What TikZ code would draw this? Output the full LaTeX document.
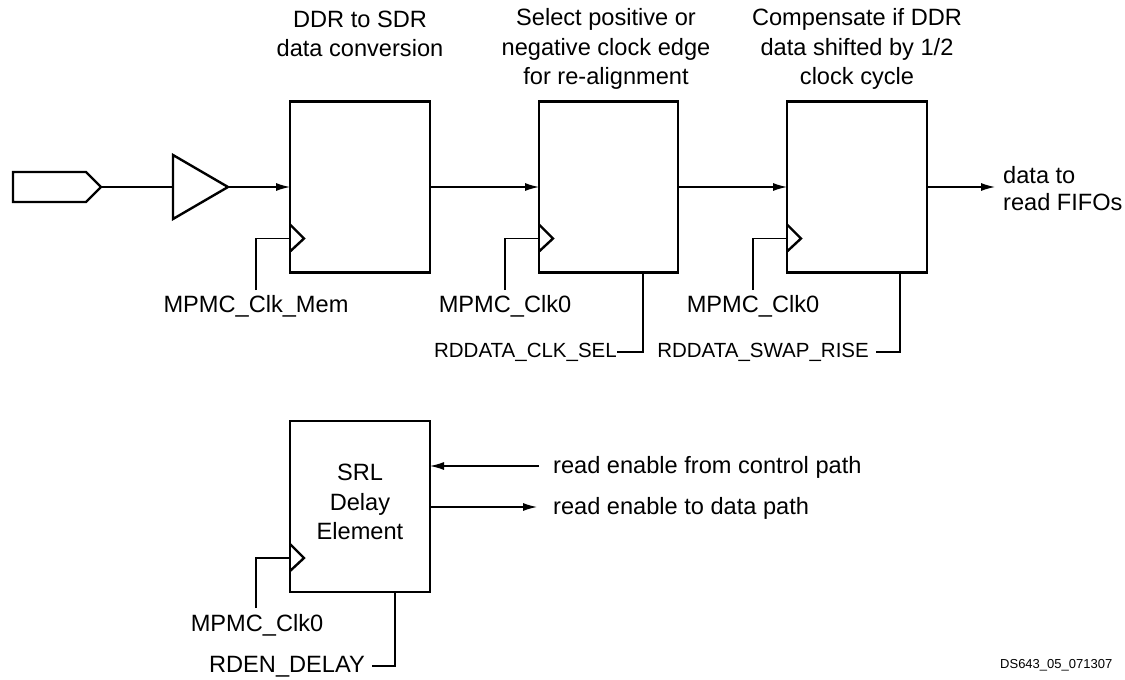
\documentclass[tikz,border=0pt]{standalone}
\usepackage{fontspec}
\setmainfont{Liberation Sans}
\usetikzlibrary{arrows.meta,calc}
\begin{document}
\begin{tikzpicture}[x=1pt,y=-1pt,
 blk/.style={draw,line width=2.6pt,minimum width=140pt,minimum height=171pt,inner sep=0pt,outer sep=0pt},
 wire/.style={line width=1.2pt},
 arr/.style={wire,-{Latex[length=14pt,width=8pt]}},
 thk/.style={line width=2.4pt,line join=miter},
 lbl/.style={font=\fontsize{23.6}{29.5}\selectfont,inner sep=0pt,align=center},
 sig/.style={font=\fontsize{20.5}{24}\selectfont,inner sep=0pt},
 small/.style={font=\fontsize{13}{15}\selectfont,inner sep=0pt}]
\useasboundingbox (0,0) rectangle (1125,680);

% blocks
\node[blk] (b1) at (360,187) {};
\node[blk,minimum width=139pt] (b2) at (608.5,187) {};
\node[blk] (b3) at (857,187) {};
\node[blk] (b4) at (360,506.5) {};

% top labels
\node[lbl] (t1) at (360,34) {DDR to SDR\\data conversion};
\node[lbl] (t2) at (606,49) {Select positive or\\negative clock edge\\for re-alignment};
\node[lbl] (t3) at (857,49) {Compensate if DDR\\data shifted by 1/2\\clock cycle};

% input port and buffer
\draw[thk] (13,172) -- (86,172) -- (101,187) -- (86,202) -- (13,202) -- cycle;
\coordinate (inp) at (101,187);
\draw[thk] (173,155) -- (228,187) -- (173,219) -- cycle;
\coordinate (bufin) at (173,187);
\coordinate (bufout) at (228,187);
\draw[wire] (inp) -- (bufin);
\draw[arr] (bufout) -- (b1.west);
\draw[arr] (b1.east) -- (b2.west);
\draw[arr] (b2.east) -- (b3.west);
\coordinate (dout) at (995,187);
\draw[arr] (b3.east) -- (dout);
\node[lbl,align=left,anchor=west,font=\fontsize{23.6}{27}\selectfont] (dlbl) at (1003,189) {data to\\read FIFOs};

% clock triangles
\foreach \b in {b1,b2,b3,b4}{
  \draw[thk] ($(\b.south west)+(0,-48)$) -- ++(14,14) -- ++(-14,13);
}

% clock wires
\coordinate (c1) at (256,290); \coordinate (k1) at ($(b1.south west)+(0,-34)$);
\coordinate (c2) at (505,290); \coordinate (k2) at ($(b2.south west)+(0,-34)$);
\coordinate (c3) at (753,290); \coordinate (k3) at ($(b3.south west)+(0,-34)$);
\coordinate (c4) at (256,608); \coordinate (k4) at ($(b4.south west)+(0,-34)$);
\draw[wire] (c1) |- (k1);
\draw[wire] (c2) |- (k2);
\draw[wire] (c3) |- (k3);
\draw[wire] (c4) |- (k4);

\node[lbl] (m1) at (256,306) {MPMC\_Clk\_Mem};
\node[lbl] (m2) at (505,306) {MPMC\_Clk0};
\node[lbl] (m3) at (753,306) {MPMC\_Clk0};
\node[lbl] (m4) at (257,625) {MPMC\_Clk0};

% select wires
\node[sig,anchor=east] (sel) at (617,352) {RDDATA\_CLK\_SEL};
\node[sig,anchor=east] (swap) at (869,352) {RDDATA\_SWAP\_RISE};
\coordinate (s2) at (643,273);
\coordinate (s3) at (900,273);
\coordinate (swapend) at (876,352);
\draw[wire] (s2) |- (sel.east);
\draw[wire] (s3) |- (swapend);

% SRL
\node[lbl] (srl) at (360,502) {SRL\\Delay\\Element};
\coordinate (rdin) at (539,466);
\coordinate (rdout) at (537,507);
\draw[arr] (rdin) -- (rdin -| b4.east);
\draw[arr] (rdout -| b4.east) -- (rdout);
\node[lbl,anchor=west] (rin) at (553,467) {read enable from control path};
\node[lbl,anchor=west] (rout) at (553,508) {read enable to data path};
\node[lbl,anchor=east] (rden) at (365,667) {RDEN\_DELAY};
\coordinate (s4) at (395,592);
\coordinate (rdenend) at (372,666);
\draw[wire] (s4) |- (rdenend);

\node[small,anchor=west] (ds) at (1000,665) {DS643\_05\_071307};
\end{tikzpicture}
\end{document}
